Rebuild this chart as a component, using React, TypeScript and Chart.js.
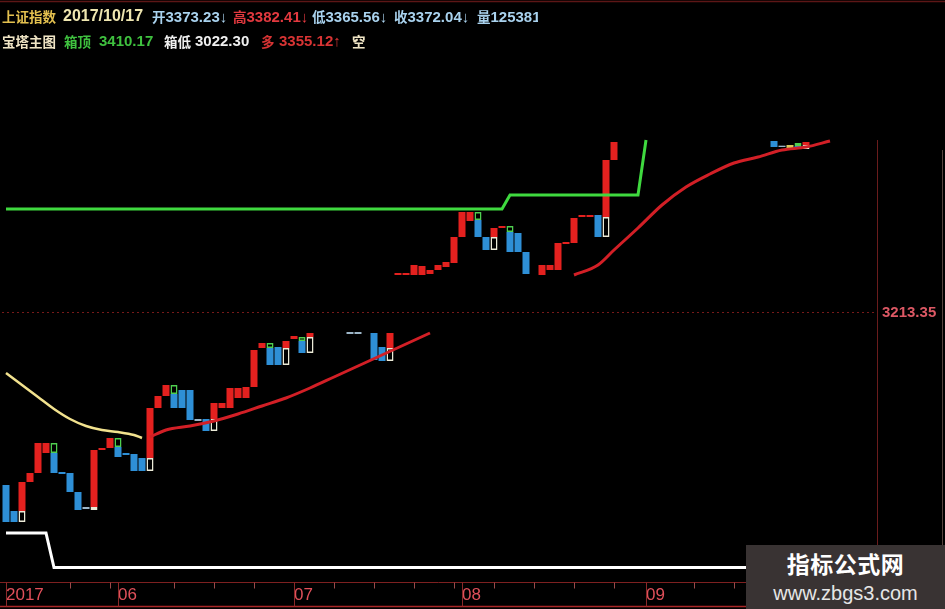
import React, { useEffect, useRef } from 'react';
import { Chart, registerables } from 'chart.js';

Chart.register(...registerables);

type Brick = [number, number, number];
type Pt = [number, number];

// ---- categories / ticks ----
const dayCount = 109;
const dayLabels = Array.from({ length: dayCount }, (_, i) => `D${i + 1}`);
const monthTicks: [number, string][] = [
  [0, '2017'],
  [14, '06'],
  [36, '07'],
  [57, '08'],
  [80, '09'],
];
const weekTicks = [8, 13, 21, 26, 31, 41, 46, 51, 56, 61, 66, 71, 76, 86, 91, 96, 101];
const priceTick = 3213.35;
const yMin = 3011.5;
const yMax = 3403;

// ---- tower bricks: [day index, low, high] ----
const redBricks: Brick[] = [
  [2, 3064.75, 3086.5], [3, 3086.5, 3093.25], [4, 3093.25, 3115.75], [5, 3108.25, 3115.75],
  [11, 3067.75, 3110.5], [12, 3110.5, 3112], [13, 3112, 3119.5],
  [18, 3104.5, 3142], [19, 3142, 3151], [20, 3151, 3159.25],
  [26, 3133.75, 3145.75], [27, 3142, 3145.75], [28, 3142, 3157], [29, 3149.5, 3157],
  [30, 3149.5, 3157.75], [31, 3157.75, 3185.5], [32, 3187, 3190.75],
  [35, 3187, 3192.25], [36, 3193.75, 3196], [38, 3195.25, 3198.25], [48, 3187, 3198.25],
  [49, 3241.75, 3243.25], [50, 3241.75, 3243.25], [51, 3241.75, 3249.25], [52, 3241.75, 3248.5],
  [53, 3242.5, 3245.5], [54, 3245.5, 3249.25], [55, 3247.75, 3251.5], [56, 3250.75, 3270.25],
  [57, 3270.25, 3289], [58, 3282.25, 3289], [61, 3270.25, 3277], [62, 3277, 3278.5],
  [67, 3241.75, 3249.25], [68, 3245.5, 3249.25], [69, 3245.5, 3265.75], [70, 3265, 3266.5],
  [71, 3265.75, 3284.5], [72, 3285.25, 3286.75], [73, 3285.25, 3286.75],
  [75, 3285.25, 3328], [76, 3328, 3341.5], [100, 3339.25, 3341.5],
];
const blueBricks: Brick[] = [
  [0, 3056.5, 3084.25], [1, 3056.5, 3064.75], [6, 3093.25, 3108.25], [7, 3092.5, 3094],
  [8, 3079, 3093.25], [9, 3065.5, 3079], [14, 3105.25, 3112.75], [15, 3106.75, 3108.25],
  [16, 3094.75, 3107.5], [17, 3094.75, 3104.5], [21, 3142, 3152.5], [22, 3142, 3155.5],
  [23, 3133, 3155.5], [25, 3124.75, 3133.75], [33, 3174.25, 3187], [34, 3174.25, 3187.75],
  [37, 3183.25, 3192.25], [46, 3178, 3198.25], [47, 3177.25, 3187.75],
  [59, 3270.25, 3283], [60, 3260.5, 3270.25], [63, 3259, 3274], [64, 3259, 3273.25],
  [65, 3242.5, 3259], [74, 3270.25, 3286.75], [96, 3337.75, 3342.25], [99, 3336.25, 3338.5],
];
const whiteBoxes: Brick[] = [
  [2, 3056.5, 3064.75], [11, 3065.5, 3067.75], [18, 3094.75, 3104.5], [26, 3124.75, 3133.75],
  [35, 3174.25, 3187], [38, 3183.25, 3195.25], [48, 3177.25, 3187], [61, 3260.5, 3270.25],
  [75, 3270.25, 3285.25], [100, 3336.25, 3339.25],
];
const greenBoxes: Brick[] = [
  [6, 3108.25, 3115.75], [14, 3112.75, 3119.5], [21, 3152.5, 3159.25], [33, 3187, 3190.75],
  [37, 3192.25, 3195.25], [59, 3283, 3289], [63, 3274, 3278.5], [99, 3338.5, 3340.75],
];
const grayDashes: Brick[] = [
  [10, 3066.25, 3067.75], [24, 3132.25, 3133.75], [43, 3197.5, 3199], [44, 3197.5, 3199],
  [97, 3337.75, 3338.75],
];
const yellowBricks: Brick[] = [[98, 3337, 3339.25]];

// ---- lines: [day index, value] ----
const yellowLine: Pt[] = [
  [0, 3168.25], [2, 3159.25], [4, 3150.25], [6, 3141.25], [8, 3133.75], [10, 3128.5],
  [12, 3125.5], [14, 3124], [16, 3121.75], [17, 3119.5],
];
const redLineA: Pt[] = [
  [18, 3120.25], [20, 3125.5], [23, 3128.5], [26, 3132.25], [29, 3137.5], [32, 3143.5],
  [35, 3149.5], [38, 3157], [41, 3165.25], [44, 3173.5], [47, 3181.75], [50, 3190], [53, 3198.25],
];
const redLineB: Pt[] = [
  [71, 3241.75], [74, 3249.25], [76, 3260.5], [79, 3277], [82, 3294.25], [85, 3307.75],
  [88, 3317.5], [91, 3325.75], [94, 3330.25], [97, 3335.5], [100, 3337.75], [103, 3342.25],
];
const greenLine: Pt[] = [[0, 3291.25], [62, 3291.25], [63, 3301.75], [79, 3301.75], [80, 3343]];
const whiteLine: Pt[] = [[0, 3048.25], [5, 3048.25], [6, 3022.3], [108, 3022.3]];

function column(rows: Brick[]) {
  const out: ([number, number] | null)[] = new Array(dayCount).fill(null);
  for (const [i, lo, hi] of rows) out[i] = [lo, hi];
  return out;
}
function pts(rows: Pt[]) {
  return rows.map(([x, y]) => ({ x, y }));
}

const framePlugin = {
  id: 'frame',
  afterDraw(chart: any) {
    const { ctx, chartArea } = chart;
    const xs = chart.scales.x;
    const line = (x1: number, y1: number, x2: number, y2: number) => {
      ctx.beginPath();
      ctx.moveTo(x1, y1);
      ctx.lineTo(x2, y2);
      ctx.stroke();
    };
    ctx.save();
    ctx.lineWidth = 1.5;
    ctx.strokeStyle = '#5c1616';
    line(0, 1.5, chart.width, 1.5);
    const top = chartArea.bottom + 0.5;
    const bot = chart.height - 2.5;
    ctx.lineWidth = 1;
    ctx.strokeStyle = '#7e2020';
    line(0, top, chartArea.right + 3, top);
    ctx.strokeStyle = '#a82626';
    ctx.lineWidth = 1.5;
    line(0, bot, chart.width, bot);
    ctx.lineWidth = 1;
    ctx.strokeStyle = '#8a2a2a';
    for (const [i] of monthTicks) {
      const x = Math.round(xs.getPixelForValue(i)) + 0.5;
      line(x, top, x, bot);
    }
    ctx.strokeStyle = '#9a4a4a';
    for (const i of weekTicks) {
      const x = Math.round(xs.getPixelForValue(i)) + 0.5;
      line(x, top, x, top + 6);
    }
    ctx.strokeStyle = '#6a1c1c';
    const rx = chartArea.right + 3.5;
    line(rx, 140, rx, top);
    ctx.strokeStyle = 'rgba(190,150,140,0.45)';
    line(942.5, 150, 942.5, 546);
    ctx.restore();
  },
};

const RED = '#e4211f';
const BLUE = '#2e8fd6';

export default function App() {
  const ref = useRef<HTMLCanvasElement>(null);

  useEffect(() => {
    if (!ref.current) return;
    const barBase = {
      type: 'bar' as const,
      grouped: false,
      barPercentage: 0.875,
      categoryPercentage: 1,
      borderSkipped: false,
      order: 2,
      xAxisID: 'x',
      yAxisID: 'y',
    };
    const lineBase = {
      type: 'line' as const,
      xAxisID: 'xl',
      yAxisID: 'y',
      pointRadius: 0,
      fill: false,
      order: 1,
    };
    const chart = new Chart(ref.current, {
      type: 'bar',
      data: {
        labels: dayLabels,
        datasets: [
          { ...barBase, label: 'red', data: column(redBricks), backgroundColor: RED, borderWidth: 0 },
          { ...barBase, label: 'blue', data: column(blueBricks), backgroundColor: BLUE, borderWidth: 0 },
          { ...barBase, label: 'yellow', data: column(yellowBricks), backgroundColor: '#d8c85a', borderWidth: 0 },
          { ...barBase, label: 'dash', data: column(grayDashes), backgroundColor: '#9db6c8', borderWidth: 0 },
          {
            ...barBase, label: 'white', data: column(whiteBoxes),
            backgroundColor: 'rgba(0,0,0,0)', borderColor: '#ecebd8', borderWidth: 1.5,
          },
          {
            ...barBase, label: 'green', data: column(greenBoxes),
            backgroundColor: 'rgba(0,0,0,0)', borderColor: '#4fcf4f', borderWidth: 1.5,
          },
          { ...lineBase, label: 'yl', data: pts(yellowLine), borderColor: '#f2e28e', borderWidth: 2.5, cubicInterpolationMode: 'monotone' },
          { ...lineBase, label: 'ra', data: pts(redLineA), borderColor: '#d21f26', borderWidth: 3, cubicInterpolationMode: 'monotone' },
          { ...lineBase, label: 'rb', data: pts(redLineB), borderColor: '#d21f26', borderWidth: 3, cubicInterpolationMode: 'monotone' },
          { ...lineBase, label: 'gl', data: pts(greenLine), borderColor: '#3fd93f', borderWidth: 3, tension: 0 },
          { ...lineBase, label: 'wl', data: pts(whiteLine), borderColor: '#ffffff', borderWidth: 3, tension: 0 },
        ] as any,
      },
      options: {
        animation: false,
        responsive: true,
        maintainAspectRatio: false,
        events: [],
        layout: { padding: { top: 60, left: 2, right: 0, bottom: 0 } },
        plugins: { legend: { display: false }, tooltip: { enabled: false } },
        scales: {
          x: {
            type: 'category',
            grid: { display: false, drawTicks: false },
            border: { display: false },
            ticks: {
              autoSkip: false,
              maxRotation: 0,
              minRotation: 0,
              align: 'start',
              padding: 3,
              color: '#e0505a',
              font: { size: 17, family: "'Liberation Sans Narrow', 'Liberation Sans', sans-serif" },
              callback: (_v: any, i: number) => {
                const m = monthTicks.find((t) => t[0] === i);
                return m ? m[1] : '';
              },
            },
            afterFit: (s: any) => {
              s.height = 27;
            },
          },
          xl: {
            type: 'linear',
            display: false,
            offset: false,
            bounds: 'ticks',
            grace: 0,
            min: -0.5,
            max: dayCount - 0.5,
            grid: { offset: false },
          },
          y: {
            position: 'right',
            min: yMin,
            max: yMax,
            afterBuildTicks: (s: any) => {
              s.ticks = [{ value: priceTick }];
            },
            afterFit: (s: any) => {
              s.width = 71;
            },
            grid: { color: 'rgba(140,30,30,0.85)', lineWidth: 1, drawTicks: false },
            border: { display: false, dash: [2, 3] },
            ticks: {
              padding: 8,
              color: '#dc5864',
              font: { size: 15, weight: 'bold', family: "'Liberation Sans', sans-serif" },
              callback: (v: any) => Number(v).toFixed(2),
            },
          },
        } as any,
      },
      plugins: [framePlugin],
    });
    return () => chart.destroy();
  }, []);

  const hdr = (x: number, y: number, color: string, size = 15): React.CSSProperties => ({
    position: 'absolute',
    left: x,
    top: y,
    color,
    fontSize: size,
    lineHeight: '20px',
    fontWeight: 'bold',
    whiteSpace: 'nowrap',
    fontFamily: "'Liberation Sans', 'Noto Sans CJK SC', sans-serif",
  });
  const cjk: React.CSSProperties = { fontSize: 13.5, fontFamily: "'Noto Sans CJK SC', sans-serif" };
  const LB = '#a9d2ee';
  const r1 = 5.5;
  const r2 = 30.5;

  return (
    <div
      style={{
        position: 'absolute', left: 0, top: 0, width: 945, height: 609,
        background: '#000', overflow: 'hidden',
      }}
    >
      <div style={{ position: 'absolute', left: 0, top: 0, width: 945, height: 609 }}>
        <canvas ref={ref} />
      </div>
      <div style={{ position: 'absolute', left: 0, top: 0, width: 538, height: 56, overflow: 'hidden' }}>
        <span style={{ ...hdr(2, r1, '#e3c04f'), ...cjk }}>上证指数</span>
        <span style={hdr(63, r1, '#efe6b0', 16)}>2017/10/17</span>
        <span style={hdr(152, r1, LB)}><span style={cjk}>开</span>3373.23↓</span>
        <span style={hdr(233, r1, '#e2393f')}><span style={cjk}>高</span>3382.41↓</span>
        <span style={hdr(312, r1, LB)}><span style={cjk}>低</span>3365.56↓</span>
        <span style={hdr(394, r1, LB)}><span style={cjk}>收</span>3372.04↓</span>
        <span style={hdr(477, r1, LB)}><span style={cjk}>量</span>125381</span>

        <span style={{ ...hdr(2, r2, '#efe4c4'), ...cjk }}>宝塔主图</span>
        <span style={{ ...hdr(64, r2, '#3fc13f'), ...cjk }}>箱顶</span>
        <span style={hdr(99, r2, '#3fc13f')}>3410.17</span>
        <span style={{ ...hdr(164, r2, '#efefef'), ...cjk }}>箱低</span>
        <span style={hdr(195, r2, '#efefef')}>3022.30</span>
        <span style={{ ...hdr(261, r2, '#d83434'), ...cjk }}>多</span>
        <span style={hdr(279, r2, '#d83434')}>3355.12↑</span>
        <span style={{ ...hdr(352, r2, '#efe4c4'), ...cjk }}>空</span>
      </div>
      <div
        style={{
          position: 'absolute', left: 746, top: 545, width: 199, height: 64,
          background: '#393333', textAlign: 'center', color: '#fff',
        }}
      >
        <div
          style={{
            position: 'absolute', left: 0, right: 0, top: 3, fontSize: 23, lineHeight: '30px',
            fontWeight: 'bold', fontFamily: "'Noto Sans CJK SC', sans-serif", letterSpacing: 0.5,
          }}
        >
          指标公式网
        </div>
        <div
          style={{
            position: 'absolute', left: 0, right: 0, top: 36, fontSize: 20, lineHeight: '24px',
            fontFamily: "'Liberation Sans', sans-serif", color: '#e6e6e6',
          }}
        >
          www.zbgs3.com
        </div>
      </div>
    </div>
  );
}
